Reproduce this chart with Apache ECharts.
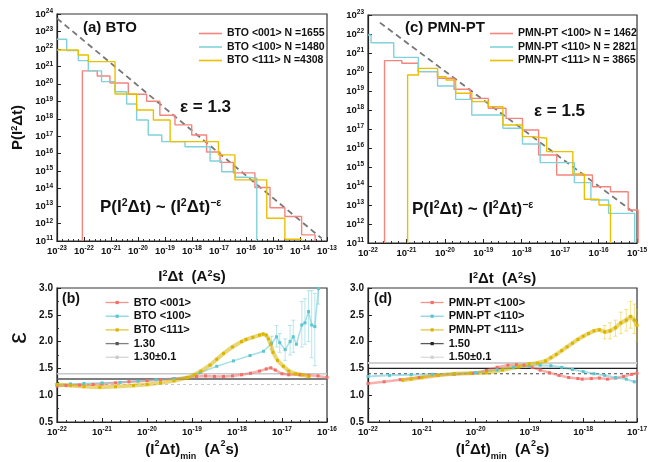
<!DOCTYPE html>
<html><head><meta charset="utf-8">
<script src="https://cdn.jsdelivr.net/npm/echarts@6/dist/echarts.min.js"></script>
<style>html,body{margin:0;padding:0;background:#fff}#c{width:650px;height:462px}</style>
</head><body><div id="c"></div>
<script>
// ---------- DATA (exponents: log10 of the plotted value) ----------
// (a) BTO histograms: bin edges (log10 I2dt) and bin heights (log10 P)
const bto001Edges = [-22.06,-21.51,-21.04,-20.36,-19.68,-19.19,-18.63,-18.01,-17.46,-16.96,-16.47,-15.67,-15.11,-14.56,-13.94,-13.44];
const bto001LogP  = [20.74,20.45,20.05,19.40,19.00,18.20,17.65,17.07,16.10,15.50,14.90,14.06,12.90,12.40,11.35];
const bto100Edges = [-23,-22.64,-22.21,-21.84,-21.35,-20.85,-20.42,-20.05,-19.62,-19.12,-18.75,-18.26,-17.33,-16.90,-16.40,-15.95,-15.60];
const bto100LogP  = [22.55,21.90,21.33,20.74,20.13,19.55,18.85,17.93,17.07,16.69,16.69,16.40,15.58,14.97,14.65,14.60];
const bto111Edges = [-23,-22.21,-21.84,-20.85,-20.05,-19.43,-18.81,-17.02,-16.41,-15.23,-14.56,-13.94];
const bto111LogP  = [21.94,21.65,21.27,19.42,18.50,17.93,16.69,15.93,14.50,12.30,11.10];
const btoFitX = [-23, -13.2];
const btoFitY = [23.75, 11.15];
// (c) PMN-PT histograms
const pmn100Edges = [-21.57,-21.12,-20.69,-20.19,-19.76,-19.34,-18.87,-18.41,-17.98,-17.56,-17.09,-16.63,-16.16,-15.69,-15.23,-14.97];
const pmn100LogP  = [20.60,20.46,20.02,19.67,19.09,18.61,18.09,17.56,16.95,15.63,14.58,14.58,13.96,13.70,12.74];
const pmn110Edges = [-22,-21.92,-21.33,-20.69,-20.19,-19.72,-19.30,-18.87,-18.49,-17.98,-17.52,-17.09,-16.63,-16.20,-15.74,-15.06];
const pmn110LogP  = [21.95,21.54,20.77,20.02,19.26,18.56,17.74,17.74,17.04,16.21,15.23,15.23,14.18,13.26,12.56];
const pmn111Edges = [-20.97,-20.69,-20.19,-19.97,-19.72,-19.30,-18.87,-18.49,-17.98,-17.69,-17.35,-16.67,-16.37,-15.99,-15.69];
const pmn111LogP  = [19.84,20.19,19.75,19.58,18.88,18.44,18.18,17.21,16.60,16.51,15.81,14.63,13.30,13.00];
const pmnFitX = [-21.69, -15.11];
const pmnFitY = [22.60, 12.65];
// (b) epsilon vs log10 (I2dt)min, BTO
const epsB001X = [-22,-21.8,-21.5,-21.2,-21,-20.7,-20.4,-20,-19.7,-19.4,-19.1,-18.9,-18.7,-18.5,-18.3,-18.1,-17.9,-17.7,-17.5,-17.35,-17.25,-17.15,-17.0,-16.85,-16.6,-16.4,-16.2,-16.0];
const epsB001Y = [1.17,1.18,1.19,1.2,1.21,1.23,1.25,1.27,1.29,1.31,1.33,1.35,1.36,1.35,1.35,1.36,1.38,1.41,1.45,1.49,1.51,1.47,1.40,1.38,1.38,1.37,1.36,1.33];
const epsB100X = [-22,-21.7,-21.4,-21,-20.6,-20.2,-19.8,-19.4,-19.12,-18.82,-18.45,-18.08,-17.71,-17.41,-17.23,-17.12,-17.05,-16.93,-16.82,-16.75,-16.68,-16.56,-16.49,-16.41,-16.34,-16.27,-16.19];
const epsB100Y = [1.2,1.21,1.22,1.23,1.24,1.26,1.29,1.31,1.33,1.42,1.54,1.64,1.74,1.82,1.97,2.09,1.98,1.85,2.0,2.09,1.95,2.31,2.35,2.56,2.31,2.28,2.99];
const epsB100ErrX  = [-17.23,-17.12,-17.05,-16.93,-16.82,-16.75,-16.56,-16.49,-16.41,-16.34,-16.27,-16.19];
const epsB100ErrLo = [1.85,1.90,1.80,1.65,1.75,1.80,1.90,1.95,2.00,1.70,1.55,2.70];
const epsB100ErrHi = [2.10,2.30,2.15,2.05,2.30,2.40,2.75,2.80,2.95,2.95,2.90,3.00];
const epsB111X = [-22,-21.7,-21.4,-21.05,-20.7,-20.3,-20,-19.7,-19.4,-19.1,-18.95,-18.8,-18.6,-18.45,-18.3,-18.1,-17.9,-17.8,-17.65,-17.5,-17.42,-17.35,-17.3,-17.25,-17.2,-17.1,-16.97,-16.85,-16.7,-16.55,-16.4];
const epsB111Y = [1.2,1.18,1.16,1.15,1.16,1.18,1.2,1.23,1.27,1.33,1.38,1.45,1.56,1.67,1.78,1.9,2.0,2.04,2.08,2.12,2.14,2.12,2.05,1.95,1.8,1.65,1.54,1.45,1.4,1.38,1.35];
// (d) epsilon vs log10 (I2dt)min, PMN-PT
const epsP100X = [-22,-21.7,-21.4,-21.05,-20.7,-20.4,-20.05,-19.8,-19.6,-19.4,-19.24,-19.1,-18.95,-18.8,-18.63,-18.45,-18.27,-18.1,-18.02,-17.85,-17.7,-17.55,-17.4,-17.25,-17.1,-17.0];
const epsP100Y = [1.22,1.25,1.29,1.33,1.37,1.39,1.41,1.46,1.52,1.56,1.57,1.56,1.52,1.47,1.42,1.37,1.33,1.31,1.3,1.31,1.32,1.3,1.32,1.35,1.39,1.41];
const epsP110X = [-22,-21.6,-21.2,-20.8,-20.4,-20,-19.6,-19.3,-19.0,-18.8,-18.6,-18.4,-18.2,-18.0,-17.8,-17.6,-17.4,-17.2,-17.05];
const epsP110Y = [1.35,1.37,1.38,1.39,1.4,1.42,1.47,1.52,1.55,1.56,1.55,1.52,1.48,1.44,1.4,1.37,1.33,1.3,1.25];
const epsP111X = [-21.36,-21.2,-21,-20.7,-20.4,-20.1,-19.8,-19.5,-19.2,-19.0,-18.85,-18.7,-18.6,-18.5,-18.4,-18.3,-18.2,-18.1,-18.0,-17.9,-17.8,-17.7,-17.6,-17.5,-17.4,-17.3,-17.2,-17.12,-17.05,-17.0];
const epsP111Y = [1.28,1.3,1.33,1.37,1.4,1.41,1.42,1.47,1.53,1.58,1.6,1.64,1.7,1.76,1.83,1.9,1.97,2.04,2.1,2.15,2.2,2.22,2.18,2.2,2.26,2.35,2.4,2.47,2.4,2.3];
const epsP111ErrX  = [-17.6,-17.5,-17.4,-17.3,-17.2,-17.12,-17.05,-17.0];
const epsP111ErrLo = [2.05,2.05,2.10,2.15,2.20,2.25,2.15,2.00];
const epsP111ErrHi = [2.30,2.35,2.40,2.55,2.60,2.75,2.70,2.60];
// reference levels
const btoLevel = 1.30, btoBand = 0.1;
const pmnLevel = 1.50, pmnBand = 0.1;

// ---------- helpers ----------
const FONT = '"Liberation Sans", Arial, sans-serif';
const RED = '#f3857f', CYAN = '#7fd2da', YEL = '#e8c000';
const RED2 = '#f26f67', CYAN2 = '#5cc5cf', YEL2 = '#d9b500';

function hist(edges, vals, floor, rise) {
  const pts = [];
  if (rise) pts.push([edges[0], floor]);
  for (let i = 0; i < vals.length; i++) pts.push([edges[i], vals[i]]);
  pts.push([edges[edges.length - 1], vals[vals.length - 1]]);
  pts.push([edges[edges.length - 1], floor]);
  return pts;
}
function pairs(xs, ys) { return xs.map((x, i) => [x, ys[i]]); }

const supRich = {
  b: {fontSize: 9.5, fontWeight: 'bold', fontFamily: FONT, color: '#111', lineHeight: 12},
  s: {fontSize: 6.5, fontWeight: 'bold', fontFamily: FONT, color: '#111', verticalAlign: 'top', lineHeight: 12}
};
function expLabel(v) { return '{b|10}{s|' + Math.round(v) + '}'; }
const nameRich = {
  s: {fontSize: 9, fontWeight: 'bold', fontFamily: FONT, verticalAlign: 'top', lineHeight: 16, color: '#111'},
  m: {fontSize: 9, fontWeight: 'bold', fontFamily: FONT, verticalAlign: 'bottom', lineHeight: 22, color: '#111'},
  n: {fontSize: 15, fontWeight: 'bold', fontFamily: FONT, lineHeight: 16, color: '#111'}
};

const axisLineS = {show: true, onZero: false, lineStyle: {color: '#222', width: 1.2}};
function expX(g, min, max, name, gap) {
  return {type: 'value', gridIndex: g, min, max, interval: 1,
    axisLine: axisLineS, axisTick: {inside: true, length: 4, lineStyle: {color: '#222'}},
    minorTick: {show: true, splitNumber: 5, length: 2, lineStyle: {color: '#333'}},
    splitLine: {show: false}, axisLabel: {formatter: expLabel, rich: supRich, margin: 4, showMinLabel: true, showMaxLabel: true},
    name, nameLocation: 'middle', nameGap: gap,
    nameTextStyle: {fontSize: 15, fontWeight: 'bold', fontFamily: FONT, color: '#111', rich: nameRich}};
}
function expY(g, min, max, name) {
  return {type: 'value', gridIndex: g, min, max, interval: 1,
    axisLine: axisLineS, axisTick: {inside: true, length: 4, lineStyle: {color: '#222'}},
    minorTick: {show: false}, splitLine: {show: false},
    axisLabel: {formatter: expLabel, rich: supRich, margin: 4, showMinLabel: true, showMaxLabel: true},
    name, nameLocation: 'middle', nameGap: 31,
    nameTextStyle: {fontSize: 15, fontWeight: 'bold', fontFamily: FONT, color: '#111', rich: nameRich}};
}
function epsY(g) {
  return {type: 'value', gridIndex: g, min: 0.5, max: 3.0, interval: 0.5,
    axisLine: axisLineS, axisTick: {inside: true, length: 4, lineStyle: {color: '#222'}},
    minorTick: {show: true, splitNumber: 2, length: 2, lineStyle: {color: '#333'}},
    splitLine: {show: false},
    axisLabel: {formatter: v => v.toFixed(1), fontSize: 10, fontWeight: 'bold', fontFamily: FONT, color: '#111', margin: 4}};
}

const histLine = (name, data, color, xi) => ({name, type: 'line', step: 'end', data, xAxisIndex: xi, yAxisIndex: xi,
  symbol: 'none', lineStyle: {color, width: 1.4}, itemStyle: {color}, z: 3});
const fitLine = (data, xi) => ({type: 'line', data, xAxisIndex: xi, yAxisIndex: xi, symbol: 'none',
  lineStyle: {color: '#777', width: 1.8, type: [6, 4]}, z: 2, silent: true});
const epsLine = (name, data, color, xi, w) => ({name, type: 'line', data, xAxisIndex: xi, yAxisIndex: xi,
  symbol: 'rect', symbolSize: 3, showSymbol: true, lineStyle: {color, width: w, opacity: 0.55},
  itemStyle: {color}, z: 4});
const hLine = (name, y, min, max, color, w, type, xi) => ({name, type: 'line', data: [[min, y], [max, y]],
  xAxisIndex: xi, yAxisIndex: xi, symbol: 'rect', showSymbol: false, lineStyle: {color, width: w, type}, itemStyle: {color}, z: 2, silent: true});
const errBars = (xs, lo, hi, color, xi) => ({type: 'custom', xAxisIndex: xi, yAxisIndex: xi, silent: true, z: 1, clip: true,
  data: xs.map((x, i) => [x, lo[i], hi[i]]),
  renderItem: (params, api) => {
    const a = api.coord([api.value(0), api.value(1)]);
    const b = api.coord([api.value(0), api.value(2)]);
    const st = {stroke: color, lineWidth: 1};
    return {type: 'group', children: [
      {type: 'line', shape: {x1: a[0], y1: a[1], x2: b[0], y2: b[1]}, style: st},
      {type: 'line', shape: {x1: a[0] - 2, y1: a[1], x2: a[0] + 2, y2: a[1]}, style: st},
      {type: 'line', shape: {x1: b[0] - 2, y1: b[1], x2: b[0] + 2, y2: b[1]}, style: st}]};
  }});

const legText = (fs) => ({fontSize: fs, fontWeight: 'bold', fontFamily: FONT, color: '#111'});
const formulaRich = {
  n: {fontSize: 17, fontWeight: 'bold', fontFamily: FONT, lineHeight: 19, fill: '#111'},
  s: {fontSize: 10.5, fontWeight: 'bold', fontFamily: FONT, verticalAlign: 'top', lineHeight: 19, fill: '#111'}
};
const topLegend = (data, left, fs) => ({data, left, top: 28, orient: 'vertical', icon: 'rect',
  itemWidth: 23, itemHeight: 1.6, itemGap: 2.5, textStyle: legText(fs), padding: 0, selectedMode: false});
const botLegend = (data, left) => ({data, left, top: 297, orient: 'vertical',
  itemWidth: 23, itemHeight: 4, itemGap: 2.7, textStyle: legText(11), padding: 0, selectedMode: false,
  lineStyle: {width: 1.3, opacity: 0.75}});

const option = {
  backgroundColor: '#fff',
  animation: false,
  grid: [
    {left: 57, top: 14, width: 270, height: 227, show: true, borderColor: '#333', borderWidth: 1.2},
    {left: 368, top: 15, width: 275, height: 228, show: true, borderColor: '#333', borderWidth: 1.2},
    {left: 57, top: 288, width: 270, height: 135, show: true, borderColor: '#333', borderWidth: 1.2},
    {left: 368, top: 288, width: 275, height: 135, show: true, borderColor: '#333', borderWidth: 1.2}
  ],
  xAxis: [
    expX(0, -23, -13, '{n|I}{s|2}{n|Δt  (A}{s|2}{n|s)}', 28),
    expX(1, -22, -15, '{n|I}{s|2}{n|Δt  (A}{s|2}{n|s)}', 28),
    expX(2, -22, -16, '{n|(I}{s|2}{n|Δt)}{m|min}{n|  (A}{s|2}{n|s)}', 17),
    expX(3, -22, -17, '{n|(I}{s|2}{n|Δt)}{m|min}{n|  (A}{s|2}{n|s)}', 17)
  ],
  yAxis: [
    expY(0, 11, 24, '{n|P(I}{s|2}{n|Δt)}'),
    expY(1, 11, 23, ''),
    epsY(2),
    epsY(3)
  ],
  legend: [
    topLegend(['BTO <001> N =1655', 'BTO <100> N =1480', 'BTO <111> N =4308'], 199, 10.5),
    topLegend(['PMN-PT <100> N = 1462', 'PMN-PT <110> N = 2821', 'PMN-PT <111> N = 3865'], 490, 10.5),
    botLegend(['BTO <001>', 'BTO <100>', 'BTO <111>', '1.30', '1.30±0.1'], 105),
    botLegend(['PMN-PT <100>', 'PMN-PT <110>', 'PMN-PT <111>', '1.50', '1.50±0.1'], 420)
  ],
  graphic: [
    {type: 'text', left: 83, top: 20, style: {text: '(a) BTO', font: 'bold 15px ' + FONT, fill: '#111'}},
    {type: 'text', left: 180, top: 99, style: {text: 'ε = 1.3', font: 'bold 17px ' + FONT, fill: '#111'}},
    {type: 'text', left: 100, top: 198, style: {text: '{n|P(I}{s|2}{n|Δt) ~ (I}{s|2}{n|Δt)}{s|−ε}', rich: formulaRich}},
    {type: 'text', left: 405, top: 20, style: {text: '(c) PMN-PT', font: 'bold 15px ' + FONT, fill: '#111'}},
    {type: 'text', left: 534, top: 103, style: {text: 'ε = 1.5', font: 'bold 17px ' + FONT, fill: '#111'}},
    {type: 'text', left: 412, top: 200, style: {text: '{n|P(I}{s|2}{n|Δt) ~ (I}{s|2}{n|Δt)}{s|−ε}', rich: formulaRich}},
    {type: 'text', left: 62, top: 292, style: {text: '(b)', font: 'bold 14px ' + FONT, fill: '#111'}},
    {type: 'text', left: 374, top: 292, style: {text: '(d)', font: 'bold 14px ' + FONT, fill: '#111'}},
    {type: 'text', x: 19, y: 338, rotation: Math.PI / 2,
     style: {text: 'ε', font: '26px ' + FONT, fill: '#111', textAlign: 'center', textVerticalAlign: 'middle'}}
  ],
  series: [
    fitLine([[btoFitX[0], btoFitY[0]], [btoFitX[1], btoFitY[1]]], 0),
    histLine('BTO <001> N =1655', hist(bto001Edges, bto001LogP, 11, true), RED, 0),
    histLine('BTO <100> N =1480', hist(bto100Edges, bto100LogP, 11, false), CYAN, 0),
    histLine('BTO <111> N =4308', hist(bto111Edges, bto111LogP, 11, false), YEL, 0),
    fitLine([[pmnFitX[0], pmnFitY[0]], [pmnFitX[1], pmnFitY[1]]], 1),
    histLine('PMN-PT <100> N = 1462', hist(pmn100Edges, pmn100LogP, 11, true), RED, 1),
    histLine('PMN-PT <110> N = 2821', hist(pmn110Edges, pmn110LogP, 11, false), CYAN, 1),
    histLine('PMN-PT <111> N = 3865', hist(pmn111Edges, pmn111LogP, 11, true), YEL, 1),
    hLine('1.30', btoLevel, -22, -16, '#555', 1.5, 'solid', 2),
    hLine('1.30±0.1', btoLevel + btoBand, -22, -16, '#c8c8c8', 1.5, 'solid', 2),
    hLine('', btoLevel - btoBand, -22, -16, '#c8c8c8', 1, [3, 3], 2),
    errBars(epsB100ErrX, epsB100ErrLo, epsB100ErrHi, 'rgba(127,210,218,0.55)', 2),
    epsLine('BTO <001>', pairs(epsB001X, epsB001Y), RED2, 2, 2.5),
    epsLine('BTO <100>', pairs(epsB100X, epsB100Y), CYAN2, 2, 1.5),
    epsLine('BTO <111>', pairs(epsB111X, epsB111Y), YEL2, 2, 4),
    hLine('1.50', pmnLevel, -22, -17, '#222', 1.2, 'solid', 3),
    hLine('1.50±0.1', pmnLevel + pmnBand, -22, -17, '#d0d0d0', 2, 'solid', 3),
    hLine('', pmnLevel - pmnBand, -22, -17, '#444', 1, [3, 3], 3),
    errBars(epsP111ErrX, epsP111ErrLo, epsP111ErrHi, 'rgba(232,192,0,0.45)', 3),
    epsLine('PMN-PT <100>', pairs(epsP100X, epsP100Y), RED2, 3, 2.5),
    epsLine('PMN-PT <110>', pairs(epsP110X, epsP110Y), CYAN2, 3, 2),
    epsLine('PMN-PT <111>', pairs(epsP111X, epsP111Y), YEL2, 3, 4)
  ]
};
const chart = echarts.init(document.getElementById('c'), null, {renderer: 'canvas'});
chart.setOption(option);
</script></body></html>
